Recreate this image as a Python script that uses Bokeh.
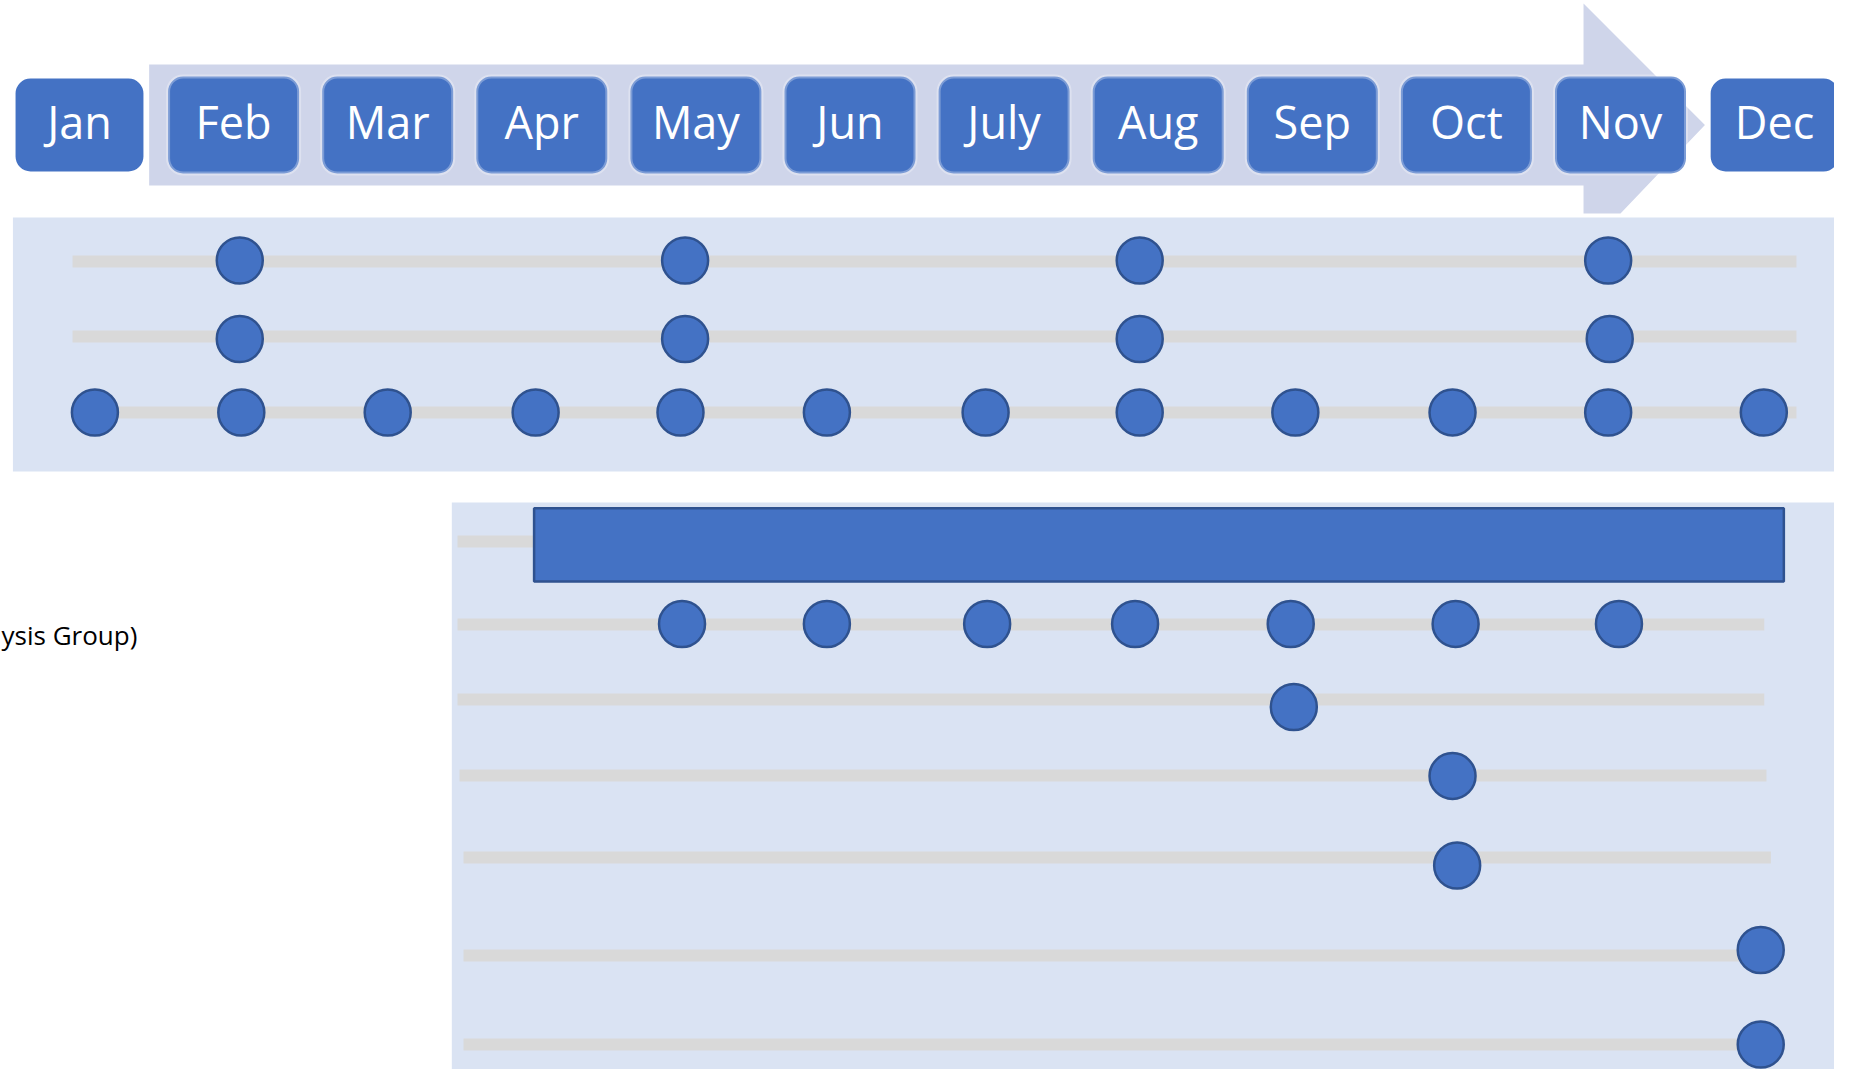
from bokeh.plotting import figure
from bokeh.models import Range1d, BoxAnnotation
from bokeh.core.properties import value
from bokeh.embed import file_html
from bokeh.resources import INLINE

# ---------------- data ----------------
MONTHS = ["Jan", "Feb", "Mar", "Apr", "May", "Jun", "July", "Aug", "Sep", "Oct", "Nov", "Dec"]
MONTH_POS = list(range(1, 13))

# milestones (position in months) of the upper panel rows
top_row1 = [2.04, 4.93, 7.88, 10.92]
top_row2 = [2.04, 4.93, 7.88, 10.93]
top_row3 = [1.10, 2.05, 3.00, 3.96, 4.90, 5.85, 6.88, 7.88, 8.89, 9.91, 10.92, 11.93]

# lower panel: one continuous activity and milestone rows
bar_start = [3.95]
bar_end = [12.06]
low_row_b = [4.91, 5.85, 6.89, 7.85, 8.86, 9.93, 10.99]
low_row_c = [8.88]
low_row_d = [9.91]
low_row_e = [9.94]
low_row_f = [11.91]
low_row_g = [11.91]

row_label = "ysis Group)"

# ---------------- layout / style ----------------
BLUE = "#4472C4"
DARK = "#2F528F"
PANEL = "#DAE3F3"
TRACK = "#D9D9D9"
ARROW = "#CFD5EA"
FONT = "Open Sans"

p = figure(width=1834, height=1069, output_backend="svg", toolbar_location=None,
           x_range=Range1d(0.48735, 12.3887), y_range=Range1d(1069, 0),
           x_axis_location=None, y_axis_location=None, min_border=0)
p.grid.visible = False
p.outline_line_color = None
p.background_fill_color = "white"
p.border_fill_color = "white"

# big process arrow behind the month boxes
arrow_x = [1.452, 10.760, 10.760, 11.548, 11.000, 10.760, 10.760, 1.452]
arrow_y = [64, 64, 3, 124.5, 213, 213, 185, 185]
p.patch(arrow_x, arrow_y, fill_color=ARROW, line_color=None, level="underlay")

# month boxes
for i, m in enumerate(MONTH_POS):
    edge = i in (0, len(MONTHS) - 1)
    half = 0.415 if edge else 0.425
    box = BoxAnnotation(left=m - half, right=m + half,
                        top=(78 if edge else 76), bottom=(171 if edge else 173),
                        fill_color=BLUE, fill_alpha=1.0,
                        line_color=(None if edge else "white"), line_width=4,
                        border_radius=15)
    p.add_layout(box)

p.text(x=MONTH_POS, y=[121] * 12, text=MONTHS, text_color="white",
       text_font=value(FONT), text_font_size="45px", text_align="center",
       text_baseline="alphabetic", level="overlay")

# panels
p.quad(left=[0.568, 3.416], right=[12.428, 12.428], top=[217, 502], bottom=[471, 1100],
       fill_color=PANEL, line_color=None)

rows = [
    # dots, track y, dot y, track start, track end
    (top_row1, 261, 260, 0.955, 12.142),
    (top_row2, 336, 338.5, 0.955, 12.142),
    (top_row3, 412, 412, 0.955, 12.142),
    ([], 541, 541, 3.453, 11.935),
    (low_row_b, 624, 623.5, 3.453, 11.933),
    (low_row_c, 699, 706.5, 3.453, 11.933),
    (low_row_d, 775, 775.5, 3.466, 11.947),
    (low_row_e, 857, 865, 3.492, 11.976),
    (low_row_f, 955, 949.5, 3.492, 11.976),
    (low_row_g, 1044, 1044, 3.492, 11.976),
]

p.hbar(y=[r[1] for r in rows], left=[r[3] for r in rows], right=[r[4] for r in rows],
       height=12, fill_color=TRACK, line_color=None)

# activity bar
p.quad(left=bar_start, right=bar_end, top=[507.7], bottom=[581],
       fill_color=BLUE, line_color=DARK, line_width=2.5)

dx, dy = [], []
for dots, ty, py, a, b in rows:
    dx += dots
    dy += [py] * len(dots)
p.scatter(x=dx, y=dy, size=46, marker="circle", fill_color=BLUE,
          line_color=DARK, line_width=2.5)

# row label
p.text(x=[0.494], y=[634], text=[row_label], text_color="black",
       text_font=value(FONT), text_font_size="26px", text_align="left",
       text_baseline="alphabetic")

open("out.html", "w").write(file_html(p, INLINE))
